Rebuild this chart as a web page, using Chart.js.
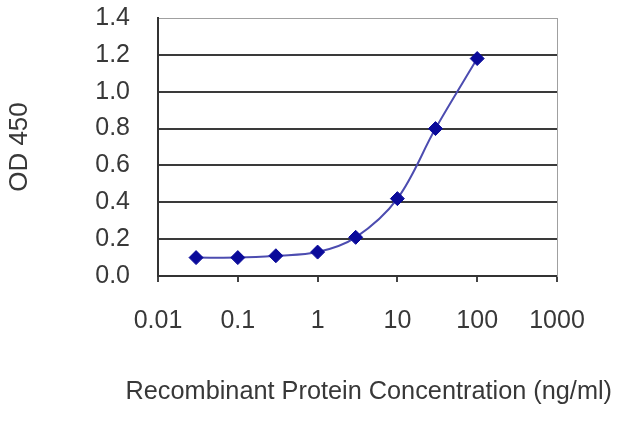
<!DOCTYPE html>
<html>
<head>
<meta charset="utf-8">
<script src="https://cdn.jsdelivr.net/npm/chart.js@4"></script>
<style>
  html, body { margin: 0; padding: 0; background: #fff; }
  #wrap { width: 640px; height: 427px; }
</style>
</head>
<body>
<div id="wrap"><canvas id="c"></canvas></div>
<script>
// concentration (ng/ml) and OD 450 readings
const concentrations = [0.03, 0.1, 0.3, 1, 3, 10, 30, 100];
const odValues = [0.10, 0.10, 0.11, 0.13, 0.21, 0.42, 0.80, 1.18];
const xTicks = [0.01, 0.1, 1, 10, 100, 1000];
const xTickLabels = ["0.01", "0.1", "1", "10", "100", "1000"];
const yTicks = [0, 0.2, 0.4, 0.6, 0.8, 1.0, 1.2, 1.4];

const points = [];
for (let i = 0; i < concentrations.length; i++) {
    points.push({ x: concentrations[i], y: odValues[i] });
}

const labelFont = { family: "Liberation Sans", size: 25 };

new Chart(document.getElementById("c"), {
    type: "line",
    data: {
        datasets: [{
            data: points,
            borderColor: "#4c4cb0",
            borderWidth: 2,
            tension: 0.35,
            pointStyle: "rectRot",
            pointRadius: 7,
            pointBackgroundColor: "#0a0a9a",
            pointBorderColor: "#0a0a9a",
            pointBorderWidth: 1
        }]
    },
    options: {
        responsive: true,
        maintainAspectRatio: false,
        animation: false,
        layout: { padding: { top: 18, right: 28, left: 0, bottom: 0 } },
        plugins: {
            legend: { display: false },
            tooltip: { enabled: false },
            // x axis caption, wider than the plot so drawn as the chart title
            title: {
                display: true,
                position: "bottom",
                align: "end",
                text: "Recombinant Protein Concentration (ng/ml)",
                color: "#383838",
                font: { family: "Liberation Sans", size: 25.3, weight: "normal" },
                padding: { top: 0, bottom: 20 }
            }
        },
        scales: {
            x: {
                type: "logarithmic",
                min: 0.01,
                max: 1000,
                afterBuildTicks: function (axis) {
                    axis.ticks = xTicks.map(v => ({ value: v }));
                },
                afterFit: function (axis) { axis.height = 100.6; },
                ticks: {
                    autoSkip: false,
                    maxRotation: 0,
                    padding: 24,
                    color: "#383838",
                    font: labelFont,
                    callback: function (value) {
                        const i = xTicks.indexOf(value);
                        return i >= 0 ? xTickLabels[i] : "";
                    }
                },
                grid: {
                    drawOnChartArea: false,
                    drawTicks: true,
                    tickLength: 6,
                    color: "#444",
                    lineWidth: 2
                },
                border: { color: "#333", width: 2 }
            },
            y: {
                min: 0,
                max: 1.4,
                afterBuildTicks: function (axis) {
                    axis.ticks = yTicks.map(v => ({ value: v }));
                },
                afterFit: function (axis) {
                    axis.width = 158;
                    axis.paddingTop = 0;
                    axis.paddingBottom = 0;
                },
                ticks: {
                    padding: 28,
                    color: "#383838",
                    font: labelFont,
                    callback: function (value) { return value.toFixed(1); }
                },
                grid: {
                    color: function (ctx) {
                        return ctx.index === yTicks.length - 1 ? "#a0a0a0" : "#3a3a3a";
                    },
                    lineWidth: function (ctx) {
                        return ctx.index === yTicks.length - 1 ? 1 : 2;
                    },
                    drawTicks: false
                },
                border: { color: "#333", width: 2 },
                title: {
                    display: true,
                    text: "OD 450",
                    color: "#383838",
                    font: { family: "Liberation Sans", size: 26 },
                    padding: { top: 4, bottom: 0 }
                }
            },
            yRight: {
                position: "right",
                min: 0,
                max: 1.4,
                afterFit: function (axis) {
                    axis.width = 55;
                    axis.paddingTop = 0;
                    axis.paddingBottom = 0;
                },
                ticks: { display: false },
                grid: { display: false },
                border: { color: "#a0a0a0", width: 1 }
            }
        }
    }
});
</script>
</body>
</html>
